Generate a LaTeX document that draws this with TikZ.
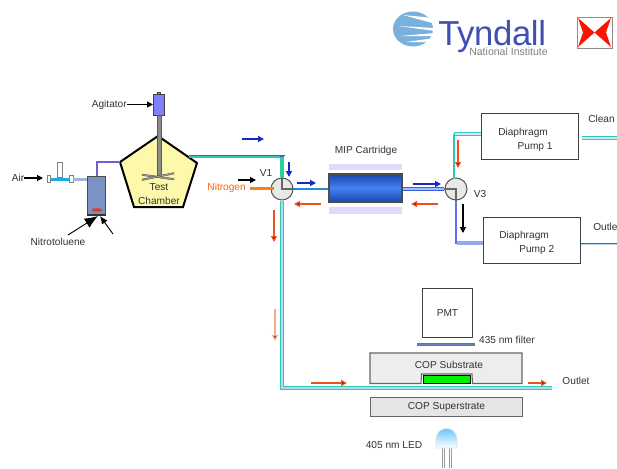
\documentclass[tikz,border=0pt]{standalone}
\usepackage{fontspec}
\setmainfont{Liberation Sans}
\usetikzlibrary{arrows.meta,calc}
\definecolor{txt}{HTML}{333333}
\definecolor{pipeteal}{HTML}{2FC9B4}
\definecolor{pipelight}{HTML}{B5D8F0}
\definecolor{pipeblue}{HTML}{2F63E8}
\definecolor{orangeflow}{HTML}{F0501A}
\definecolor{darkflow}{HTML}{1428C8}
\definecolor{logoblue}{RGB}{123,176,220}
\tikzset{
 x=0.75pt,y=-0.75pt,
 lab/.style={font=\fontsize{7.6}{9}\selectfont,text=txt,inner sep=0pt,align=center},
 flowb/.style={-{Triangle[length=4.5pt,width=4.5pt]},darkflow,line width=0.9pt},
 flowk/.style={-{Triangle[length=4.5pt,width=4.5pt]},black,line width=0.8pt},
 flowo/.style={-{Triangle[length=4.5pt,width=4.5pt,fill=orangeflow!35!black]},orangeflow,line width=0.9pt},
 boxn/.style={draw=black!75,line width=0.7pt,fill=white,inner sep=0pt,anchor=north west},
 valve/.style={circle,draw=black!65,line width=0.8pt,fill=black!9,minimum size=16.5pt,inner sep=0pt},
 inner/.style={black!60,line width=0.8pt},
 tealpipe/.style={pipeteal,line width=2.4pt},
 lightpipe/.style={pipelight,line width=1.3pt},
}
\begin{document}
\begin{tikzpicture}
\useasboundingbox (0,0) rectangle (617,468);
\fill[white] (0,0) rectangle (617,468);
% logo
\fill[logoblue] (413,29) ellipse[x radius=20,y radius=17.5];
\fill[white] (403,15)--(434,18)--(434,23.5)--cycle;
\fill[white] (398,26)--(435,28)--(435,31)--cycle;
\fill[white] (400,36)--(435,33)--(435,36)--cycle;
\fill[white] (406,42)--(431,38.5)--(431,42)--cycle;
\node[inner sep=0pt,anchor=base west,text={rgb,255:red,64;green,80;blue,176}] (tyndall) at (438,45) {\fontsize{26}{28}\selectfont\addfontfeatures{LetterSpace=-1}Tyndall};
\node[inner sep=0pt,anchor=east,text=black!50] (nat) at (548,52) {\fontsize{7.9}{9}\selectfont National Institute};
% broken image icon
\draw[black!45,line width=0.7pt,fill=white] (577,17) rectangle (612,48);
\fill[red!85!orange] (578,18)--(594.5,32.5)--(611,18)--(606,32.5)--(611,47)--(594.5,32.5)--(578,47)--(583,32.5)--cycle;
% agitator
\node[boxn,fill=black!45,minimum width=2.2pt,minimum height=1.6pt] (nub) at (157,92) {};
\node[boxn,fill=blue!50,minimum width=8.6pt,minimum height=15.5pt] (motor) at (153,94) {};
% chamber
\coordinate (pa) at (158,136);\coordinate (pb) at (197,163);\coordinate (pc) at (183,207);\coordinate (pd) at (134,207);\coordinate (pe) at (120,162);
\draw[black,line width=1.5pt,line join=miter,fill={rgb,255:red,253;green,248;blue,170}] (pa)--(pb)--(pc)--(pd)--(pe)--cycle;
\draw[black!65,line width=0.5pt,fill=black!45] (157,115) rectangle (161,176);
\draw[black!70,fill=black!35,line width=0.3pt] (142,174)--(174,178.5)--(174,180)--(142,175.5)--cycle;
\draw[black!70,fill=black!35,line width=0.3pt] (142,179)--(174,172.5)--(174,174)--(142,180.5)--cycle;
\node[lab] (tc) at (159,194) {Test\\[1pt]Chamber};
\node[lab,anchor=east] (agl) at (127,104.5) {Agitator};
\draw[flowk] (agl.east) -- (motor.west |- agl.east);
% valve V1, V3
\node[valve] (v1) at (282,189) {};
\node[valve] (v3) at (456,189) {};
% air inlet
\node[lab] (air) at (18,178) {Air};
\node[boxn,draw=black!50,fill=white,minimum width=2.6pt,minimum height=5.6pt] (tl) at (47,175) {};
\node[boxn,draw=black!50,fill=white,minimum width=3pt,minimum height=5.6pt] (tr) at (68.5,175) {};
\node[boxn,draw=black!50,fill=white,minimum width=3.6pt,minimum height=11pt] (stem) at (57,162) {};
\draw[color={rgb,255:red,30;green,170;blue,230},line width=2.4pt] (tl.east)--(tr.west);
\coordinate (airend) at (43,178);
\draw[flowk] (air.east)--(airend);
% bottle
\node[boxn,draw=black!70,fill={rgb,255:red,123;green,146;blue,196},minimum width=13.5pt,minimum height=28.5pt] (bottle) at (87,176) {};
\draw[black!80,line width=1pt] (bottle.south west)--(bottle.south east);
\fill[color={rgb,255:red,225;green,60;blue,40}] (97,210) ellipse[x radius=5.5,y radius=1.8];
\draw[color={rgb,255:red,160;green,180;blue,215},line width=2.2pt] (tr.east)--(bottle.west |- tr.east);
\draw[color={rgb,255:red,110;green,95;blue,210},line width=1.5pt] (96.5,176) |- (pe);
\node[lab] (nit) at (58,242) {Nitrotoluene};
\coordinate (nita) at (68,235);\coordinate (nitb) at (113,234);
\coordinate (bota) at (98,216);\coordinate (botb) at (100,216);
\draw[-{Latex[length=10pt,width=8pt]},black,line width=0.7pt] (nita)--(bota);
\draw[-{Latex[length=6pt,width=5pt]},black,line width=0.7pt] (nitb)--(botb);
% chamber -> V1
\draw[pipeteal,line width=1.5pt] (189,156.5)--(282,156.5);
\draw[pipeblue,line width=0.6pt] (189,155.4)--(284.5,155.4);
\draw[pipeblue,line width=3.5pt] (282,155)--(v1.north);
\draw[pipeteal!85!green,line width=2.7pt] (282,157)--(v1.north);
% cartridge
\node[boxn,draw=none,fill={rgb,255:red,220;green,220;blue,250},minimum width=54.5pt,minimum height=4.5pt] (bar1) at (329,164) {};
\node[boxn,draw=none,fill={rgb,255:red,220;green,220;blue,250},minimum width=54.5pt,minimum height=5pt] (bar2) at (329,207) {};
\shade[top color={rgb,255:red,25;green,70;blue,175},bottom color={rgb,255:red,25;green,70;blue,175},middle color={rgb,255:red,70;green,130;blue,240}] (329,174) rectangle (402,202);
\node[draw=black!70,line width=0.8pt,minimum width=54.75pt,minimum height=21pt,inner sep=0pt] (cart) at (365.5,188) {};
\node[lab] (mip) at (366,151) {MIP Cartridge};
\draw[color={rgb,255:red,24;green,144;blue,216},line width=1.9pt] (v1.east)--(cart.west |- v1.east);
\draw[pipeblue,line width=2.6pt] (cart.east |- v3.west)--(v3.west);
\draw[color={rgb,255:red,175;green,185;blue,250},line width=1.6pt] (cart.east |- v3.west)--(v3.west);
% nitrogen
\node[lab,text=orange!80!red,anchor=east] (n2) at (246,188) {Nitrogen};
\coordinate (n2p) at (250,188.5);\coordinate (n2e) at (274,188.5);
\draw[color={rgb,255:red,250;green,130;blue,20},line width=2.6pt] (n2p)--(n2e);
\node[lab] (v1l) at (266,173) {V1};
\draw[flowk] (238,180)--(256,180);
% V1 inside
\draw[inner] (v1.north)--(v1.center)--(v1.east);
% V1 down to outlet
\coordinate (outend) at (552,388);
\coordinate (corner) at (282,388);
\draw[tealpipe] (v1.south)--(corner)--(outend);
\draw[lightpipe] (v1.south)--(corner)--(outend);
% V3
\node[boxn,minimum width=72.75pt,minimum height=34.5pt] (pump1) at (481,113) {};
\node[boxn,minimum width=72.75pt,minimum height=34.5pt] (pump2) at (483,217) {};
\draw[pipeteal,line width=1pt] (454,178.5)--(454,134);
\draw[pipeteal,line width=2.4pt] (453.5,134)--(pump1.west |- 453,134);
\draw[pipelight!60!white,line width=0.9pt] (454.5,134)--(pump1.west |- 453,134);
\draw[color={rgb,255:red,90;green,115;blue,240},line width=1.7pt] (v3.south)--(456,243)--(pump2.west |- 456,243);
\draw[color={rgb,255:red,150;green,165;blue,240},line width=2.4pt] (457,243)--(pump2.west |- 456,243);
\draw[inner] (v3.west)--(v3.center)--(v3.south);
\node[lab] (v3l) at (480,194) {V3};
\node[lab,align=left,anchor=north west] (p1t) at (498,127.5) {Diaphragm\\[1.5pt]\hspace*{14.5pt}Pump 1};
\node[lab,align=left,anchor=north west] (p2t) at (499,230.5) {Diaphragm\\[1.5pt]\hspace*{15pt}Pump 2};
\node[lab,anchor=west] (clean) at (588,119) {Clean};
\node[lab,anchor=west] (outl1) at (593,227) {Outlet};
\coordinate (cleanend) at (617,138);\coordinate (cleanst) at (582,138);
\draw[pipeteal,line width=2.4pt] (cleanst)--(cleanend);
\draw[pipelight!60!white,line width=0.8pt] (cleanst)--(cleanend);
\draw[pipeblue,line width=2.2pt] (pump2.east |- 580,244)--(617,244);
\draw[pipelight,line width=0.6pt] (pump2.east |- 580,244)--(617,244);
% flow arrows
\draw[flowb] (242,139)--(264,139);
\draw[flowb] (289,162)--(289,177);
\draw[flowb] (297,183)--(316,183);
\draw[flowb] (413,184)--(441,184);
\draw[flowo] (321,204)--(294,204);
\draw[flowo] (438,204)--(411,204);
\draw[flowo] (274,210)--(274,242);
\draw[flowo,draw=orangeflow!50!white] (275,309)--(275,341);
\draw[flowo] (311,383)--(347,383);
\draw[flowo] (528,383)--(547,383);
\draw[flowo] (458,140)--(458,168);
\draw[flowk] (463,204)--(463,233);
% detection
\node[boxn,minimum width=37.5pt,minimum height=36.75pt,label={[lab]center:PMT}] (pmt) at (422,288) {};
\node[boxn,draw=black!55,fill={rgb,255:red,100;green,135;blue,200},minimum width=42.75pt,minimum height=1.6pt] (filt) at (417,343) {};
\node[lab] (fl) at (507,340) {435 nm filter};
\fill[black!7] (370,353) rectangle (522,383.5);
\fill[white] (421,383.5)--(421.5,374)--(472,374)--(472.5,383.5)--cycle;
\draw[black!60,line width=0.8pt] (421,383.5)--(370,383.5)--(370,353)--(522,353)--(522,383.5)--(472.5,383.5)--(472,374)--(421.5,374)--cycle;
\draw[black,line width=0.6pt,fill={rgb,255:red,0;green,240;blue,0}] (423.5,375.5) rectangle (470,383);
\node[lab] (subs) at (449,365) {COP Substrate};
\node[boxn,draw=black!60,fill=black!10,minimum width=114pt,minimum height=14.25pt] (sup) at (370,397) {};
\node[lab] at (sup.center) (supl) {COP Superstrate};
\node[lab] (outl2) at (576,381) {Outlet};
% LED
\draw[black!40,line width=0.8pt] (442.5,448)--(442.5,468) (444.5,448)--(444.5,468) (449.5,448)--(449.5,468) (451.5,448)--(451.5,468);
\shade[top color={rgb,255:red,100;green,200;blue,255},bottom color=white,draw=black!12,line width=0.5pt] (436,448)--(436,439) arc[start angle=180,end angle=360,radius=10.5]--(457,448)--cycle;
\node[lab] (led) at (394,445) {405 nm LED};
\end{tikzpicture}
\end{document}
